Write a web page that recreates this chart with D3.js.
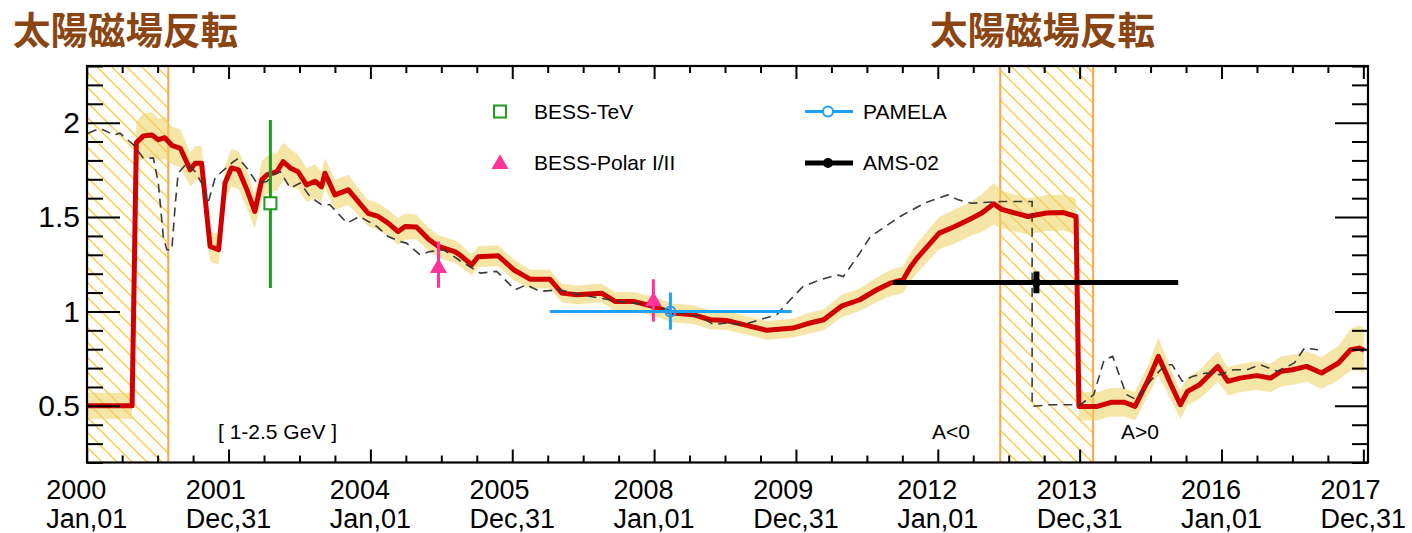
<!DOCTYPE html>
<html><head><meta charset="utf-8">
<script src="https://cdn.jsdelivr.net/npm/d3@7"></script>
<style>
body{margin:0;background:#fff}
svg{display:block}
text{font-family:"Liberation Sans",Arial,Helvetica,sans-serif;fill:#000}
</style>
</head><body>
<svg id="c" width="1412" height="533"></svg>
<script>
// ---------- data ----------
const redYears = [
 2000.00, 2000.64, 2000.70, 2000.80, 2000.92, 2001.01, 2001.10, 2001.20, 2001.32, 2001.46,
 2001.53, 2001.62, 2001.74, 2001.86, 2001.95, 2002.04, 2002.14, 2002.26, 2002.37, 2002.47,
 2002.54, 2002.68, 2002.77, 2002.87, 2002.98, 2003.10, 2003.22, 2003.31, 2003.36, 2003.50,
 2003.69, 2003.85, 2003.97, 2004.11, 2004.25, 2004.39, 2004.49, 2004.65, 2004.82, 2004.96,
 2005.10, 2005.19, 2005.26, 2005.43, 2005.52, 2005.80, 2006.02, 2006.25, 2006.53, 2006.70,
 2006.91, 2007.26, 2007.45, 2007.71, 2007.99, 2008.27, 2008.55, 2008.79, 2009.02, 2009.26,
 2009.59, 2009.96, 2010.20, 2010.39, 2010.65, 2010.90, 2011.14, 2011.33, 2011.51, 2011.62,
 2011.71, 2012.02, 2012.24, 2012.48, 2012.62, 2012.79, 2012.89, 2013.27, 2013.53, 2013.77,
 2013.95, 2013.99, 2014.25, 2014.44, 2014.63, 2014.78, 2014.97, 2015.11, 2015.30, 2015.42,
 2015.52, 2015.69, 2015.83, 2015.95, 2016.09, 2016.26, 2016.50, 2016.69, 2016.84, 2017.00,
 2017.20, 2017.41, 2017.65, 2017.82, 2017.94, 2018.01
];
const redValues = [
 0.5, 0.5, 1.894, 1.93, 1.935, 1.91, 1.92, 1.88, 1.864, 1.75,
 1.785, 1.785, 1.344, 1.327, 1.68, 1.76, 1.75, 1.644, 1.53, 1.697,
 1.723, 1.74, 1.794, 1.76, 1.74, 1.67, 1.69, 1.66, 1.732, 1.617,
 1.644, 1.573, 1.52, 1.503, 1.468, 1.423, 1.45, 1.447, 1.383, 1.344,
 1.327, 1.317, 1.30, 1.247, 1.29, 1.295, 1.221, 1.171, 1.171, 1.097,
 1.088, 1.097, 1.053, 1.053, 1.026, 0.992, 0.983, 0.956, 0.952, 0.93,
 0.90, 0.912, 0.939, 0.956, 1.03, 1.062, 1.115, 1.15, 1.168, 1.238,
 1.283, 1.415, 1.45, 1.494, 1.521, 1.57, 1.542, 1.503, 1.521, 1.524,
 1.503, 0.497, 0.497, 0.519, 0.519, 0.497, 0.639, 0.762, 0.603, 0.506,
 0.577, 0.612, 0.665, 0.709, 0.63, 0.647, 0.66, 0.647, 0.683, 0.691,
 0.709, 0.674, 0.727, 0.797, 0.806, 0.794
];
const redErrors = [
 0.07, 0.07, 0.11, 0.12, 0.12, 0.11, 0.11, 0.1, 0.1, 0.09,
 0.09, 0.09, 0.08, 0.08, 0.09, 0.1, 0.1, 0.1, 0.09, 0.1,
 0.1, 0.1, 0.1, 0.1, 0.09, 0.09, 0.09, 0.08, 0.08, 0.08,
 0.08, 0.07, 0.07, 0.07, 0.07, 0.07, 0.07, 0.065, 0.06, 0.06,
 0.06, 0.06, 0.06, 0.055, 0.055, 0.055, 0.055, 0.05, 0.05, 0.05,
 0.05, 0.05, 0.05, 0.05, 0.05, 0.05, 0.05, 0.05, 0.05, 0.05,
 0.05, 0.05, 0.055, 0.055, 0.06, 0.06, 0.065, 0.07, 0.07, 0.075,
 0.08, 0.085, 0.09, 0.09, 0.1, 0.11, 0.1, 0.095, 0.095, 0.095,
 0.095, 0.075, 0.075, 0.075, 0.075, 0.075, 0.08, 0.1, 0.08, 0.075,
 0.075, 0.075, 0.08, 0.08, 0.075, 0.075, 0.075, 0.075, 0.08, 0.08,
 0.08, 0.085, 0.09, 0.11, 0.12, 0.12
];
const modelYears = [
 2000.02, 2000.19, 2000.38, 2000.47, 2000.66, 2000.80, 2000.94, 2001.01, 2001.08, 2001.13,
 2001.20, 2001.25, 2001.29, 2001.41, 2001.53, 2001.62, 2001.71, 2001.81, 2001.88, 2002.07,
 2002.14, 2002.26, 2002.40, 2002.54, 2002.63, 2002.73, 2002.87, 2003.01, 2003.15, 2003.31,
 2003.43, 2003.67, 2003.85, 2004.09, 2004.25, 2004.42, 2004.51, 2004.70, 2004.84, 2005.03,
 2005.26, 2005.55, 2005.78, 2006.04, 2006.20, 2006.39, 2006.67, 2006.96, 2007.24, 2007.52,
 2007.80, 2008.08, 2008.37, 2008.65, 2008.84, 2009.02, 2009.26, 2009.49, 2009.73, 2009.92,
 2010.10, 2010.34, 2010.58, 2010.67, 2010.90, 2011.05, 2011.19, 2011.47, 2011.81, 2012.14,
 2012.29, 2012.48, 2012.62, 2012.91, 2013.27, 2013.33, 2013.33, 2013.58, 2014.01, 2014.20,
 2014.345, 2014.465, 2014.657, 2014.80, 2015.015, 2015.207, 2015.303, 2015.447, 2015.591, 2015.783,
 2015.974, 2016.165, 2016.357, 2016.548, 2016.788, 2017.028, 2017.171, 2017.362
];
const modelValues = [
 1.944, 1.97, 1.935, 1.944, 1.882, 1.812, 1.812, 1.68, 1.397, 1.327,
 1.327, 1.573, 1.732, 1.785, 1.74, 1.68, 1.573, 1.706, 1.732, 1.794,
 1.812, 1.759, 1.68, 1.688, 1.723, 1.74, 1.653, 1.68, 1.608, 1.565,
 1.565, 1.468, 1.503, 1.45, 1.397, 1.37, 1.362, 1.30, 1.317, 1.327,
 1.27, 1.203, 1.212, 1.115, 1.141, 1.106, 1.115, 1.088, 1.07, 1.053,
 1.04, 1.018, 0.992, 0.974, 0.93, 0.939, 0.93, 0.956, 0.983, 1.062,
 1.132, 1.168, 1.194, 1.185, 1.309, 1.397, 1.432, 1.503, 1.573, 1.617,
 1.591, 1.573, 1.577, 1.582, 1.582, 1.582, 0.497, 0.506, 0.506, 0.56,
 0.744, 0.762, 0.56, 0.533, 0.639, 0.718, 0.718, 0.63, 0.656, 0.674,
 0.665, 0.691, 0.691, 0.718, 0.683, 0.727, 0.806, 0.797
];
// solar magnetic field reversal periods
const reversalStart = [2000.00, 2012.88];
const reversalEnd   = [2001.15, 2014.19];
const reversalTitle = "太陽磁場反転";

// experiments: [year, value, low, high]
const bessTeV   = [2002.59, 1.573, 1.124, 2.014];
const bessPolarYears  = [2004.96, 2007.99];
const bessPolarValues = [1.23, 1.053];
const bessPolarLow    = [1.125, 0.947];
const bessPolarHigh   = [1.37, 1.171];
const pamela = [2008.23, 1.0, 0.903, 1.1];
const pamelaRange = [2006.53, 2009.94];
const ams02 = [2013.39, 1.153, 1.097, 1.212];
const ams02Range = [2011.37, 2015.39];

const legendNames = ["BESS-TeV", "BESS-Polar I/II", "PAMELA", "AMS-02"];
const xTickYears = [2000, 2002, 2004, 2006, 2008, 2010, 2012, 2014, 2016, 2018];
const xTickYearLabels = ["2000","2001","2004","2005","2008","2009","2012","2013","2016","2017"];
const xTickDayLabels  = ["Jan,01","Dec,31","Jan,01","Dec,31","Jan,01","Dec,31","Jan,01","Dec,31","Jan,01","Dec,31"];
const yTickValues = [0.5, 1, 1.5, 2];
const yTickLabels = ["0.5", "1", "1.5", "2"];
const energyLabel = "[ 1-2.5 GeV ]";
const polarityLabels = ["A<0", "A>0"];

// ---------- layout ----------
const L = 87, R = 1368, T = 66, B = 462.5;
const svg = d3.select("#c");
const x = d3.scaleLinear().domain([2000, 2018.07]).range([86.7, 1368.3]);
const y = d3.scaleLinear().domain([0.2, 2.3]).range([B, T]);

const defs = svg.append("defs");
defs.append("clipPath").attr("id","plot").append("rect")
  .attr("x",L).attr("y",T).attr("width",R-L).attr("height",B-T);
const pat = defs.append("pattern").attr("id","hatch").attr("patternUnits","userSpaceOnUse")
  .attr("width",15).attr("height",15);
pat.append("path").attr("d","M0,0 L15,15 M-2,13 L2,17 M13,-2 L17,2")
  .attr("stroke","#ffc83c").attr("stroke-width",1.3).attr("fill","none");

const plot = svg.append("g").attr("clip-path","url(#plot)");

// reversal hatched regions
reversalStart.forEach((s,i)=>{
  plot.append("rect").attr("x",x(s)).attr("y",T).attr("width",x(reversalEnd[i])-x(s)).attr("height",B-T)
    .attr("fill","url(#hatch)");
  [s, reversalEnd[i]].forEach(v=>{
    plot.append("line").attr("x1",x(v)).attr("x2",x(v)).attr("y1",T).attr("y2",B)
      .attr("stroke","#ffa54a").attr("stroke-width",2);
  });
});

const redData = redYears.map((yr,i)=>({yr, v:redValues[i], e:redErrors[i]}));
const modelData = modelYears.map((yr,i)=>({yr, v:modelValues[i]}));

// band
plot.append("path").datum(redData)
  .attr("d", d3.area().x(d=>x(d.yr)).y0(d=>y(d.v-d.e)).y1(d=>y(d.v+d.e)))
  .attr("fill","rgb(236,208,95)").attr("fill-opacity",0.55);

// red line
plot.append("path").datum(redData)
  .attr("d", d3.line().x(d=>x(d.yr)).y(d=>y(d.v)))
  .attr("fill","none").attr("stroke","#d00000").attr("stroke-width",5).attr("stroke-linejoin","round");

// dashed model
plot.append("path").datum(modelData)
  .attr("d", d3.line().x(d=>x(d.yr)).y(d=>y(d.v)))
  .attr("fill","none").attr("stroke","#3a3a3a").attr("stroke-width",1.6).attr("stroke-dasharray","9,6");

// BESS-TeV
const green = "#1f9a1f";
plot.append("line").attr("x1",x(bessTeV[0])).attr("x2",x(bessTeV[0]))
  .attr("y1",y(bessTeV[2])).attr("y2",y(bessTeV[3])).attr("stroke",green).attr("stroke-width",3);
plot.append("rect").attr("x",x(bessTeV[0])-6).attr("y",y(bessTeV[1])-6).attr("width",12).attr("height",12)
  .attr("fill","#fff").attr("stroke",green).attr("stroke-width",2);

// BESS-Polar
const pink = "#ff3399";
const tri = d3.symbol().type(d3.symbolTriangle).size(125);
bessPolarYears.forEach((yr,i)=>{
  plot.append("line").attr("x1",x(yr)).attr("x2",x(yr))
    .attr("y1",y(bessPolarLow[i])).attr("y2",y(bessPolarHigh[i])).attr("stroke",pink).attr("stroke-width",3);
  plot.append("path").attr("d",tri).attr("transform",`translate(${x(yr)},${y(bessPolarValues[i])})`)
    .attr("fill",pink);
});

// PAMELA
const blue = "#1ea0f5";
plot.append("line").attr("x1",x(pamelaRange[0])).attr("x2",x(pamelaRange[1]))
  .attr("y1",y(pamela[1])).attr("y2",y(pamela[1])).attr("stroke",blue).attr("stroke-width",3);
plot.append("line").attr("x1",x(pamela[0])).attr("x2",x(pamela[0]))
  .attr("y1",y(pamela[2])).attr("y2",y(pamela[3])).attr("stroke",blue).attr("stroke-width",3);
plot.append("circle").attr("cx",x(pamela[0])).attr("cy",y(pamela[1])).attr("r",5)
  .attr("fill","none").attr("stroke",blue).attr("stroke-width",2);

// AMS-02
plot.append("line").attr("x1",x(ams02Range[0])).attr("x2",x(ams02Range[1]))
  .attr("y1",y(ams02[1])).attr("y2",y(ams02[1])).attr("stroke","#000").attr("stroke-width",5);
plot.append("line").attr("x1",x(ams02[0])).attr("x2",x(ams02[0]))
  .attr("y1",y(ams02[2])).attr("y2",y(ams02[3])).attr("stroke","#000").attr("stroke-width",6);
plot.append("circle").attr("cx",x(ams02[0])).attr("cy",y(ams02[1])).attr("r",4.5).attr("fill","#000");

// ---------- axes ----------
const ax = svg.append("g");
const minorX = d3.range(2000, 2018.01, 0.5).filter(v=>!xTickYears.includes(v));
const minorY = d3.range(0.2, 2.301, 0.1).map(v=>+v.toFixed(1)).filter(v=>!yTickValues.includes(v));

function styleAxis(g){ g.select(".domain").remove(); g.selectAll(".tick line").attr("stroke","#000").attr("stroke-width",2); }

ax.append("g").attr("transform",`translate(0,${B})`)
  .call(d3.axisBottom(x).tickValues(xTickYears).tickSize(-13).tickFormat("")).call(styleAxis);
ax.append("g").attr("transform",`translate(0,${B})`)
  .call(d3.axisBottom(x).tickValues(minorX).tickSize(-7).tickFormat("")).call(styleAxis);
ax.append("g").attr("transform",`translate(0,${T})`)
  .call(d3.axisTop(x).tickValues(xTickYears).tickSize(-13).tickFormat("")).call(styleAxis);
ax.append("g").attr("transform",`translate(0,${T})`)
  .call(d3.axisTop(x).tickValues(minorX).tickSize(-7).tickFormat("")).call(styleAxis);

const yl = ax.append("g").attr("transform",`translate(${L},0)`)
  .call(d3.axisLeft(y).tickValues(yTickValues).tickSize(-33).tickPadding(7)
     .tickFormat((d,i)=>yTickLabels[i])).call(styleAxis);
yl.selectAll(".tick text").style("font-size","30px").style("font-family",'"Liberation Sans",Arial,sans-serif').attr("fill","#000");
ax.append("g").attr("transform",`translate(${L},0)`)
  .call(d3.axisLeft(y).tickValues(minorY).tickSize(-16).tickFormat("")).call(styleAxis);
ax.append("g").attr("transform",`translate(${R},0)`)
  .call(d3.axisRight(y).tickValues(yTickValues).tickSize(-33).tickFormat("")).call(styleAxis);
ax.append("g").attr("transform",`translate(${R},0)`)
  .call(d3.axisRight(y).tickValues(minorY).tickSize(-16).tickFormat("")).call(styleAxis);

svg.append("rect").attr("x",L).attr("y",T).attr("width",R-L).attr("height",B-T)
  .attr("fill","none").attr("stroke","#000").attr("stroke-width",2.2);

// x tick labels (two lines, left aligned, block centred on tick)
xTickYears.forEach((yr,i)=>{
  const t = svg.append("text").style("font-size","27px");
  const a = t.append("tspan").attr("y",498.5).text(xTickYearLabels[i]);
  const b = t.append("tspan").attr("y",528).text(xTickDayLabels[i]);
  const w = Math.max(a.node().getComputedTextLength(), b.node().getComputedTextLength());
  a.attr("x", x(yr)-w/2); b.attr("x", x(yr)-w/2);
});

// legend
const lg = svg.append("g").style("font-size","21px");
lg.append("rect").attr("x",494).attr("y",105.5).attr("width",12).attr("height",12)
  .attr("fill","#fff").attr("stroke",green).attr("stroke-width",2);
lg.append("path").attr("d",tri).attr("transform","translate(500,164)").attr("fill",pink);
lg.append("line").attr("x1",805).attr("x2",853).attr("y1",111.5).attr("y2",111.5).attr("stroke",blue).attr("stroke-width",3);
lg.append("circle").attr("cx",828).attr("cy",111.5).attr("r",5).attr("fill","#fff").attr("stroke",blue).attr("stroke-width",2);
lg.append("line").attr("x1",805).attr("x2",853).attr("y1",163).attr("y2",163).attr("stroke","#000").attr("stroke-width",5);
lg.append("circle").attr("cx",828).attr("cy",163).attr("r",5).attr("fill","#000");
lg.append("text").attr("x",534).attr("y",119).text(legendNames[0]);
lg.append("text").attr("x",534).attr("y",170).text(legendNames[1]);
lg.append("text").attr("x",863).attr("y",119).text(legendNames[2]);
lg.append("text").attr("x",863).attr("y",170).text(legendNames[3]);

// annotations
svg.append("text").attr("x",218).attr("y",439).style("font-size","21px").attr("xml:space","preserve").text(energyLabel);
svg.append("text").attr("x",932).attr("y",439).style("font-size","21px").text(polarityLabels[0]);
svg.append("text").attr("x",1121).attr("y",439).style("font-size","21px").text(polarityLabels[1]);

// titles
[13, 930].forEach(px=>{
  svg.append("text").attr("x",px).attr("y",43.5)
    .style("font-family",'"Noto Sans CJK JP","Noto Sans CJK SC",sans-serif')
    .style("font-size","37.5px").style("font-weight","bold").style("fill","#8a4513")
    .text(reversalTitle);
});
</script>
</body></html>
